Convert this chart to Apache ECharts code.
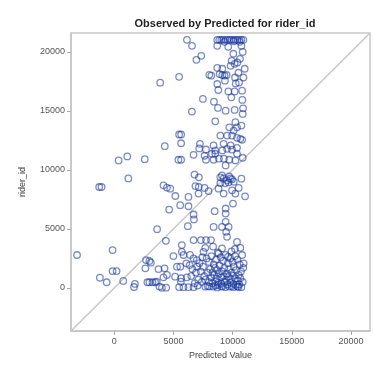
<!DOCTYPE html>
<html><head><meta charset="utf-8">
<script src="https://cdn.jsdelivr.net/npm/echarts@6/dist/echarts.min.js"></script>
<style>html,body{margin:0;padding:0;background:#fff;}#c{width:374px;height:374px;}</style>
</head><body><div id="c"></div>
<script>
const titleText = 'Observed by Predicted for rider_id';
const xName = 'Predicted Value';
const yName = 'rider_id';
const tickValues = [0, 5000, 10000, 15000, 20000];
const axisRange = [-3650, 21600];
// [predicted, observed]
const points = [
[6140,21020],[6570,20510],[7350,19670],[6940,19330],[5480,17890],[3880,17390],[8030,18060],[8200,17980],[8700,18650],
[8700,21020],[8870,21020],[9040,21020],[9210,21020],[9380,21020],[9550,21020],[9720,21020],[9890,21020],[10060,21020],[10230,21020],[10400,21020],[10570,21020],[10740,21020],[10910,21020],[9300,20850],[10100,20900],[10600,20850],
[8700,20510],[9630,20430],[10740,20510],[10850,20000],[10060,19840],[10620,19410],[10400,19100],[10170,18990],[9830,18820],[9920,19240],[9130,18570],[11020,18570],[10490,18230],[8900,18120],[9130,18040],[9320,17980],[9490,18040],[10200,17830],[10910,17830],[8700,17280],[9350,17560],[10260,17330],[10540,17410],[8790,16770],[9640,16650],[10170,16650],[10800,16710],[7490,16010],[8420,15780],[9890,16150],[10820,15930],[8760,15250],[9410,15020],[10170,15080],[10880,15220],[10850,14740],[6560,14940],[8530,14120],[10230,14040],[9720,13610],[10370,13610],[10740,13760],[10090,13330],
[5480,13000],[5650,13000],[5650,12260],[4270,12010],[7240,12210],[7180,11820],[7750,11730],[8250,11370],[6700,11280],[7630,11200],[7750,10860],[8390,10860],[5420,10860],[5650,10860],[370,10800],[1100,11140],[2580,10910],[1190,9280],[6780,9600],[7150,9370],
[8960,12910],[9530,12910],[9950,12910],[9240,12210],[9830,12070],[10370,12720],[10800,12550],[9530,11790],[9950,11710],[10370,11370],[10850,11030],[10230,10800],[9720,10860],[8530,11370],[9410,10380],[8390,12070],[9130,11650],[8530,11650],[9260,10950],[8840,10950],[10370,11870],[10650,12630],
[8960,9370],[9240,9280],[9530,9120],[9830,9280],[9660,8950],[9380,8860],[9100,9540],[9700,9450],[9950,9200],[10100,9000],
[10740,9260],[8960,8890],[7630,8470],[7970,8210],[8810,8410],[9240,7990],[9950,8270],[10510,8470],[10230,7990],[11050,7760],[6860,8630],[7140,8550],[4160,8690],[4450,8500],[4730,8410],[5160,7790],[6270,7710],[7120,7990],[5570,7010],[4640,6640],[6270,6920],[8480,6500],[9410,6730],[9410,6300],[10030,7150],[6700,6220],[6730,5800],[6220,5230],[8390,5170],[9100,5170],[9660,5170],[9410,5600],[9450,4750],[9530,4330],[-1270,8550],[-1070,8550],
[3620,4980],[4360,3990],[5710,3630],[6700,4050],[7320,4050],[7750,4050],[8170,4050],[10370,3900],[10650,3400],[7690,3400],[7540,3060],[9100,3350],[9610,2640],[6700,2510],[6980,2360],[5000,2700],[5710,3060],[5850,2790],[-3140,2790],[-140,3210],[-140,1430],[200,1430],[-1210,870],[-640,480],[760,590],[1750,340],[1670,80],[2690,2360],[2970,2280],[3090,2140],[2630,1660],[2800,480],[2970,480],[3230,480],[3460,480],[3820,110],[3740,1600],[4030,25],[4390,25],[5300,1800],[5580,1800],[6090,2080],[6370,1940],[4250,1660],[4450,1100],[4160,900],[5140,950],[5630,530],[6140,900],[5480,60],[5850,60],[6270,60],[6700,60],[5650,820],[3590,530],[10930,2080],[10800,2790],[10650,820],[8760,250],
[7690,110],[8030,110],[8360,110],[8700,40],[9040,110],[9380,60],[9720,110],[10060,60],[10400,110],[10740,60],
[7200,2100],[7500,1800],[7800,2500],[8000,2200],[8200,2700],[8400,2000],[8600,2400],[8800,2900],[9000,2600],[9200,2300],[9400,2800],[9600,2100],[9800,2500],[10000,2200],[10200,2700],[10400,2400],[10600,2000],
[8100,1600],[8300,1300],[8500,1700],[8700,1500],[8900,1900],[9100,1400],[9300,1700],[9500,1200],[9700,1600],[9900,1300],[10100,1800],[10300,1500],[10500,1100],
[7300,1400],[7600,1000],[7900,1300],[8200,900],[8450,1100],[8650,800],[8850,1200],[9050,900],[9250,1000],[9450,700],[9650,950],[9850,750],[10050,1050],[10250,800],[10450,600],[10700,1400],
[6900,1300],[7100,700],[7400,500],[7700,700],[8000,500],[8300,400],[8550,550],[8800,450],[9050,350],[9300,500],[9550,300],[9800,450],[10050,350],[10300,250],[10550,300],
[6500,1000],[6800,400],[7000,1800],[6600,1600],[7450,2600],[8750,3000],[9900,3100],[10200,3300],[8350,3500],[6400,2800],[7050,200],[7900,150],[8550,200],[9150,150],[9900,150],[10500,80],[10850,500],[10900,1700]
];
const refLine = [[axisRange[0], axisRange[0]], [axisRange[1], axisRange[1]]];

const chart = echarts.init(document.getElementById('c'), null, {renderer: 'canvas'});
const lab = {color: '#555', fontSize: 9, fontFamily: 'Liberation Sans, Arial, sans-serif'};
function axis(name, isY) {
  return {
    type: 'value', min: axisRange[0], max: axisRange[1],
    name: name, nameLocation: 'middle', nameGap: isY ? 44 : 20,
    nameTextStyle: {color: '#444', fontSize: 9, fontFamily: 'Liberation Sans, Arial, sans-serif'},
    axisLine: {show: true, onZero: false, lineStyle: {color: '#c4c4c4', width: 1.5}},
    axisTick: {show: true, length: 4, lineStyle: {color: '#aaa'}, customValues: tickValues},
    axisLabel: Object.assign({customValues: tickValues, margin: 6, formatter: v => String(v)}, lab),
    splitLine: {show: false}
  };
}
chart.setOption({
  animation: false,
  title: {text: titleText, left: 220, top: 13, textAlign: 'center',
    textStyle: {fontSize: 11, fontWeight: 'bold', color: '#222', fontFamily: 'Liberation Sans, Arial, sans-serif'}},
  grid: {left: 71, right: 4, top: 33, bottom: 43, show: true, borderColor: '#c8c8c8', borderWidth: 1.5},
  xAxis: axis(xName, false),
  yAxis: axis(yName, true),
  series: [
    {type: 'line', data: refLine, symbol: 'none', lineStyle: {color: '#c8c8c8', width: 1.5}, silent: true, z: 1},
    {type: 'scatter', data: points, symbol: 'circle', symbolSize: 6.5,
     itemStyle: {color: 'rgba(255,255,255,0)', borderColor: 'rgba(25,55,160,0.72)', borderWidth: 1.3}, z: 2}
  ]
});
</script></body></html>
